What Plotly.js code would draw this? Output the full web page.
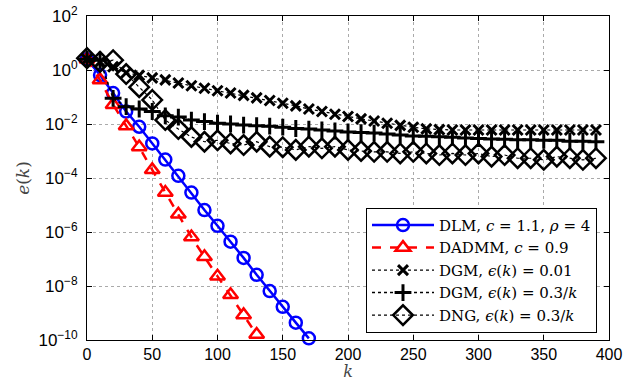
<!DOCTYPE html>
<html>
<head>
<meta charset="utf-8">
<script src="https://cdn.plot.ly/plotly-3.0.1.min.js"></script>
<style>html,body{margin:0;padding:0;background:#fff;}#chart{width:634px;height:381px;}</style>
</head>
<body>
<div id="chart"></div>
<script>
// iteration index of each marker
const kDLM = [0,10,20,30,40,50,60,70,80,90,100,110,120,130,140,150,160,170];
const eDLM = [2.5,0.65,0.14,2.9e-2,7.9e-3,1.9e-3,4.8e-4,1.2e-4,2.9e-5,6.5e-6,1.7e-6,4.4e-7,1.1e-7,2.6e-8,6.5e-9,1.7e-9,4.4e-10,1.15e-10];

const kDADMM = [0,10,20,30,40,50,60,70,80,90,100,110,120,130];
const eDADMM = [2.5,0.43,5.2e-2,8.5e-3,1.4e-3,2.0e-4,2.9e-5,4.5e-6,6.5e-7,1.2e-7,2.3e-8,4.7e-9,8.5e-10,1.6e-10];

const kLong = [0,10,20,30,40,50,60,70,80,90,100,110,120,130,140,150,160,170,180,190,200,210,220,230,240,250,260,270,280,290,300,310,320,330,340,350,360,370,380,390];
const eDGM1 = [2.51,2.0,1.32,0.79,0.63,0.51,0.43,0.33,0.26,0.21,0.17,0.14,0.115,0.093,0.074,0.059,0.047,0.036,0.029,0.023,0.019,0.0155,0.0129,0.0107,0.0089,0.0076,0.0066,0.0062,0.006,0.006,0.006,0.006,0.006,0.006,0.006,0.006,0.006,0.006,0.006,0.006];
const eDGM2 = [2.5,2.3,0.089,0.044,0.036,0.029,0.020,0.018,0.014,0.0123,0.0107,0.0100,0.0091,0.0087,0.0083,0.0076,0.0068,0.0065,0.0060,0.0055,0.0051,0.0048,0.0046,0.0043,0.0039,0.0036,0.0035,0.0034,0.0032,0.0030,0.0029,0.0028,0.0027,0.0026,0.0026,0.0025,0.0025,0.0023,0.0023,0.0022];
const eDNG = [2.75,2.0,2.3,0.71,0.23,0.078,0.014,0.0065,0.0033,0.0022,0.0025,0.0019,0.00166,0.0022,0.00145,0.00138,0.0011,0.00145,0.00126,0.00145,0.0011,0.001,0.00093,0.00093,0.00081,0.00093,0.00081,0.00071,0.00081,0.00071,0.00081,0.00062,0.00071,0.00054,0.00054,0.00047,0.00062,0.00054,0.00047,0.00054];

const names = [
  "DLM, <i>c</i> = 1.1, <i>ρ</i> = 4",
  "DADMM, <i>c</i> = 0.9",
  "DGM, <i>ϵ</i>(<i>k</i>) = 0.01",
  "DGM, <i>ϵ</i>(<i>k</i>) = 0.3/<i>k</i>",
  "DNG, <i>ϵ</i>(<i>k</i>) = 0.3/<i>k</i>"
];
const xTicks = [0,50,100,150,200,250,300,350,400];
const yTickVals = [1e-10,1e-8,1e-6,1e-4,1e-2,1,1e2];
const yTickText = ["10<sup>−10</sup>","10<sup>−8</sup>","10<sup>−6</sup>","10<sup>−4</sup>","10<sup>−2</sup>","10<sup>0</sup>","10<sup>2</sup>"];

const traces = [
  {x:kDLM, y:eDLM, name:names[0], mode:'lines+markers', cliponaxis:false,
   line:{color:'#0000ff', width:2.5},
   marker:{symbol:'circle-open', size:12, color:'#0000ff', line:{width:2.5, color:'#0000ff'}}},
  {x:kDADMM, y:eDADMM, name:names[1], mode:'lines+markers', cliponaxis:false,
   line:{color:'#ff0000', width:2.5, dash:'dash'},
   marker:{symbol:'triangle-up-open', size:13, color:'#ff0000', line:{width:2.5, color:'#ff0000'}}},
  {x:kLong, y:eDGM1, name:names[2], mode:'lines+markers', cliponaxis:false,
   line:{color:'#000000', width:1.2, dash:'dot'},
   marker:{symbol:'x-thin-open', size:10, color:'#000000', line:{width:3, color:'#1a1a1a'}}},
  {x:kLong, y:eDGM2, name:names[3], mode:'lines+markers', cliponaxis:false,
   line:{color:'#000000', width:1.5, dash:'dot'},
   marker:{symbol:'cross-thin-open', size:12, color:'#000000', line:{width:3, color:'#1a1a1a'}}},
  {x:kLong, y:eDNG, name:names[4], mode:'lines+markers', cliponaxis:false,
   line:{color:'#000000', width:1.2, dash:'dot'},
   marker:{symbol:'diamond-open', size:15, color:'#000000', line:{width:2.5, color:'#1a1a1a'}}}
];

const layout = {
  width:634, height:381,
  margin:{l:87, r:25, t:16, b:41},
  paper_bgcolor:'#ffffff', plot_bgcolor:'#ffffff',
  font:{family:'"Liberation Sans", Arial, sans-serif', size:17, color:'#000'},
  showlegend:true,
  legend:{x:0.977, y:0.022, xanchor:'right', yanchor:'bottom',
    bgcolor:'#ffffff', bordercolor:'#000', borderwidth:1,
    font:{family:'"DejaVu Serif", "Liberation Serif", serif', size:15, color:'#000'},
    itemwidth:62, tracegroupgap:0},
  xaxis:{range:[0,400], tickvals:xTicks, ticktext:xTicks.map(String),
    tickfont:{size:16},
    showline:true, linecolor:'#000', linewidth:1, mirror:'ticks',
    ticks:'inside', ticklen:5, tickcolor:'#000', ticklabelstandoff:0,
    showgrid:true, gridcolor:'#aaaaaa', griddash:'dot', gridwidth:1, zeroline:false,
    title:{text:'<i>k</i>', font:{family:'"DejaVu Serif", "Liberation Serif", serif', size:16, color:'#444'}, standoff:2}},
  yaxis:{type:'log', range:[-10,2], tickvals:yTickVals, ticktext:yTickText,
    showline:true, linecolor:'#000', linewidth:1, mirror:'ticks',
    ticks:'inside', ticklen:5, tickcolor:'#000', ticklabelstandoff:5,
    showgrid:true, gridcolor:'#aaaaaa', griddash:'dot', gridwidth:1, zeroline:false,
    title:{text:'<i>e</i>(<i>k</i>)', font:{family:'"DejaVu Serif", "Liberation Serif", serif', size:17, color:'#444'}, standoff:4}}
};

Plotly.newPlot('chart', traces, layout, {displayModeBar:false, staticPlot:true});
</script>
</body>
</html>
